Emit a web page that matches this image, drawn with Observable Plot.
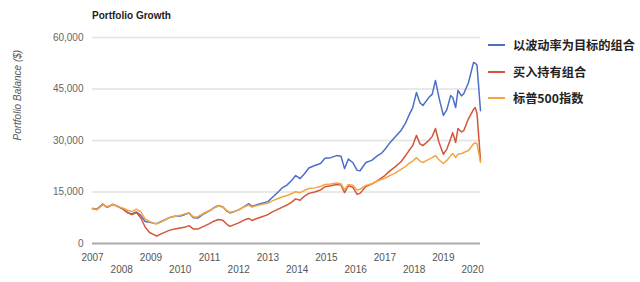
<!DOCTYPE html>
<html>
<head>
<meta charset="utf-8">
<script src="https://cdn.jsdelivr.net/npm/d3@7"></script>
<script src="https://cdn.jsdelivr.net/npm/@observablehq/plot@0.6"></script>
<style>
  html, body { margin: 0; padding: 0; background: #fff; }
  #wrap { position: relative; width: 640px; height: 282px; font-family: "Liberation Sans", Arial, sans-serif; overflow: hidden; }
  #title { position: absolute; left: 92px; top: 10px; font-size: 10px; font-weight: bold; color: #222; }
  #legend { position: absolute; left: 488px; top: 32px; font-family: "Noto Sans CJK SC", sans-serif; font-weight: bold; font-size: 12.2px; color: #222; white-space: nowrap; }
  .item { display: flex; align-items: center; height: 26.5px; white-space: nowrap; }
  .sw { width: 17px; height: 2px; margin-right: 8px; flex: none; }
</style>
</head>
<body>
<div id="wrap">
  <div id="chart"></div>
  <div id="title">Portfolio Growth</div>
  <div id="legend"></div>
</div>
<script>
const seriesNames = ["以波动率为目标的组合", "买入持有组合", "标普500指数"];
const seriesColors = ["#4c6fc6", "#d4553a", "#f3a742"];
const yTicks = [0, 15000, 30000, 45000, 60000];
const oddYears = [2007, 2009, 2011, 2013, 2015, 2017, 2019];
const evenYears = [2008, 2010, 2012, 2014, 2016, 2018, 2020];

const years = [2007.00,2007.15,2007.35,2007.50,2007.70,2007.85,2008.05,2008.20,2008.35,2008.50,2008.65,2008.80,2008.95,2009.10,2009.20,2009.35,2009.50,2009.65,2009.85,2010.00,2010.15,2010.30,2010.45,2010.60,2010.80,2011.00,2011.15,2011.30,2011.45,2011.60,2011.70,2011.85,2012.00,2012.20,2012.35,2012.45,2012.60,2012.80,2013.00,2013.15,2013.35,2013.50,2013.65,2013.80,2013.95,2014.10,2014.25,2014.40,2014.60,2014.80,2014.95,2015.15,2015.35,2015.50,2015.62,2015.75,2015.90,2016.05,2016.15,2016.35,2016.55,2016.75,2016.90,2017.00,2017.15,2017.35,2017.55,2017.70,2017.82,2017.95,2018.08,2018.20,2018.30,2018.50,2018.62,2018.73,2018.85,2019.00,2019.12,2019.25,2019.32,2019.42,2019.50,2019.62,2019.70,2019.86,2020.03,2020.09,2020.15,2020.27];

const volTarget = [10200,10000,11500,10500,11400,10900,10000,9000,8600,9200,8200,6400,6200,5900,5800,6400,7000,7600,8000,8000,8400,8900,7500,7400,8600,9500,10400,11000,10700,9400,8900,9300,9800,10800,11600,10800,11200,11700,12200,13400,15000,16300,17000,18300,19800,18900,20300,22000,22700,23300,24800,25000,25600,25400,21800,24600,23600,21300,21200,23600,24200,25600,26400,27400,29100,31000,32900,35000,37300,39500,44000,41000,40200,42500,43500,47500,42500,37300,39000,43100,42500,39600,44600,43000,43700,46900,52700,52500,52000,38700];

const buyHold = [10200,9900,11400,10600,11400,10800,10000,9000,8400,9000,7500,4800,3200,2600,2200,2800,3400,3900,4300,4500,4700,5200,4200,4200,5000,5800,6500,7000,6800,5600,5000,5500,6000,6900,7300,6700,7200,7800,8400,9200,10000,10600,11200,12000,13000,12600,13800,14600,15000,15600,16500,16800,17200,17000,14800,16800,16400,14300,14600,16600,17300,18300,19200,19800,21000,22300,23800,25500,27000,28500,31500,29000,28500,30000,31200,33500,29500,26000,27500,30500,32300,29400,33500,32500,32900,36400,39000,39600,37900,24200];

const sp500 = [10200,9800,11300,10700,11400,10800,10300,9700,9300,10000,9300,7200,6400,5900,5700,6300,7000,7600,8000,8200,8600,9000,7700,7800,8800,9600,10300,10900,10600,9600,9100,9300,9800,10700,11200,10600,11000,11400,11700,12400,13100,13600,14000,14500,15100,14800,15500,16000,16200,16600,17200,17300,17600,17400,15600,17200,17000,15600,15800,16900,17400,18200,18700,19000,19700,20500,21600,22400,23300,24000,25000,24000,23600,24500,25000,25600,24400,23300,24200,25600,26200,25000,26000,26200,26500,27100,29000,29400,29000,23600];

const seriesValues = [volTarget, buyHold, sp500];
const data = [];
seriesNames.forEach((name, i) => {
  years.forEach((t, j) => data.push({series: name, t, v: seriesValues[i][j]}));
});

const chart = Plot.plot({
  width: 640,
  height: 282,
  marginLeft: 92,
  marginRight: 160,
  marginTop: 37,
  marginBottom: 39,
  style: {fontFamily: "'Liberation Sans', Arial, sans-serif", background: "#fff"},
  x: {domain: [2007, 2020.27]},
  y: {domain: [0, 60000]},
  color: {domain: seriesNames, range: seriesColors},
  marks: [
    Plot.gridY(yTicks.filter(d => d > 0), {stroke: "#e2e2e2", strokeOpacity: 1, strokeWidth: 1.3}),
    Plot.ruleY([0], {stroke: "#aaaaaa", strokeWidth: 2}),
    Plot.axisY({ticks: yTicks, tickSize: 0, tickPadding: 9, tickFormat: d3.format(","), fill: "#666", fontSize: 10, label: null}),
    Plot.axisX({ticks: oddYears, tickSize: 0, tickPadding: 10, tickFormat: d => String(d), fill: "#555", fontSize: 10, label: null}),
    Plot.axisX({ticks: evenYears, tickSize: 0, tickPadding: 22, tickFormat: d => String(d), fill: "#555", fontSize: 10, label: null}),
    Plot.text(["Portfolio Balance ($)"], {frameAnchor: "left", rotate: -90, dx: -75, fontStyle: "italic", fontSize: 10, fill: "#555"}),
    Plot.line(data, {x: "t", y: "v", z: "series", stroke: "series", strokeWidth: 1.5, curve: "linear"})
  ]
});
document.getElementById("chart").appendChild(chart);

const legend = document.getElementById("legend");
seriesNames.forEach((name, i) => {
  const item = document.createElement("div");
  item.className = "item";
  const sw = document.createElement("span");
  sw.className = "sw";
  sw.style.background = seriesColors[i];
  const label = document.createElement("span");
  label.textContent = name;
  item.appendChild(sw);
  item.appendChild(label);
  legend.appendChild(item);
});
</script>
</body>
</html>
